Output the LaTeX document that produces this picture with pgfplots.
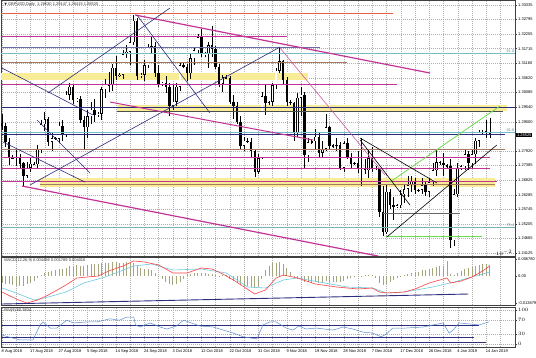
\documentclass[border=0pt]{standalone}
\usepackage{fontspec}
\setmainfont{Liberation Sans}
\newfontfamily\symfont{DejaVu Sans}
\usepackage{pgfplots}
\usepackage{pgfplotstable}
\pgfplotsset{compat=1.18}
\definecolor{mtnavy}{RGB}{45,45,125}
\definecolor{mtmag}{RGB}{195,50,150}
\definecolor{mtred}{RGB}{230,95,70}
\definecolor{mtbrown}{RGB}{165,120,95}
\definecolor{mtyel}{RGB}{248,236,150}
\definecolor{mtteal}{RGB}{120,190,200}
\definecolor{mtgreen}{RGB}{110,220,80}
\definecolor{mthist}{RGB}{165,165,125}
\definecolor{mtcyan}{RGB}{110,200,225}
\definecolor{mtrsi}{RGB}{90,140,210}
\definecolor{mtgrid}{RGB}{175,175,175}

\pgfplotstableread{
i o h l c
0 1.2895 1.2930 1.2868 1.2885
1 1.2885 1.2895 1.2808 1.2825
2 1.2825 1.2838 1.2740 1.2770
3 1.2768 1.2775 1.2760 1.2765
4 1.2765 1.2795 1.2735 1.2770
5 1.2770 1.2780 1.2725 1.2745
6 1.2745 1.2752 1.2662 1.2700
7 1.2700 1.2750 1.2690 1.2730
8 1.2730 1.2765 1.2712 1.2745
9 1.2745 1.2752 1.2738 1.2742
10 1.2742 1.2815 1.2730 1.2798
11 1.2798 1.2905 1.2785 1.2890
12 1.2890 1.2935 1.2865 1.2910
13 1.2910 1.2918 1.2810 1.2825
14 1.2825 1.2860 1.2790 1.2840
15 1.2840 1.2845 1.2832 1.2836
16 1.2836 1.2900 1.2820 1.2885
17 1.2885 1.2905 1.2830 1.2850
18 1.2850 1.3015 1.2845 1.3000
19 1.3000 1.3045 1.2980 1.3030
20 1.3030 1.3040 1.2965 1.2980
21 1.2980 1.2990 1.2972 1.2985
22 1.2985 1.2995 1.2895 1.2905
23 1.2905 1.2920 1.2800 1.2880
24 1.2880 1.2945 1.2840 1.2920
25 1.2920 1.2975 1.2890 1.2945
26 1.2945 1.2985 1.2900 1.2925
27 1.2925 1.2935 1.2918 1.2930
28 1.2930 1.3030 1.2905 1.3020
29 1.3020 1.3060 1.2990 1.3040
30 1.3040 1.3085 1.3010 1.3035
31 1.3035 1.3115 1.3015 1.3100
32 1.3100 1.3145 1.3055 1.3070
33 1.3070 1.3080 1.3065 1.3075
34 1.3075 1.3165 1.3060 1.3150
35 1.3150 1.3185 1.3135 1.3160
36 1.3160 1.3215 1.3110 1.3195
37 1.3195 1.3298 1.3185 1.3275
38 1.3275 1.3285 1.3055 1.3070
39 1.3070 1.3080 1.3062 1.3075
40 1.3075 1.3130 1.3050 1.3110
41 1.3110 1.3190 1.3100 1.3175
42 1.3175 1.3215 1.3150 1.3180
43 1.3180 1.3195 1.3065 1.3080
44 1.3080 1.3110 1.3030 1.3040
45 1.3040 1.3048 1.3032 1.3045
46 1.3045 1.3070 1.3005 1.3030
47 1.3030 1.3045 1.2920 1.2960
48 1.2960 1.3040 1.2945 1.2975
49 1.2975 1.3045 1.2960 1.3030
50 1.3030 1.3120 1.3015 1.3110
51 1.3110 1.3118 1.3100 1.3105
52 1.3105 1.3115 1.3050 1.3080
53 1.3080 1.3150 1.3060 1.3135
54 1.3135 1.3175 1.3110 1.3165
55 1.3165 1.3225 1.3150 1.3215
56 1.3215 1.3245 1.3140 1.3150
57 1.3150 1.3160 1.3140 1.3155
58 1.3155 1.3195 1.3100 1.3185
59 1.3185 1.3257 1.3140 1.3170
60 1.3170 1.3180 1.3095 1.3105
61 1.3105 1.3115 1.3030 1.3040
62 1.3040 1.3075 1.3010 1.3065
63 1.3065 1.3072 1.3058 1.3062
64 1.3062 1.3070 1.2965 1.2975
65 1.2975 1.3000 1.2910 1.2960
66 1.2960 1.2975 1.2890 1.2900
67 1.2900 1.2920 1.2800 1.2810
68 1.2810 1.2845 1.2790 1.2830
69 1.2830 1.2838 1.2822 1.2826
70 1.2826 1.2840 1.2770 1.2790
71 1.2790 1.2800 1.2695 1.2715
72 1.2715 1.2780 1.2705 1.2765
73 1.2765 1.3010 1.2760 1.2995
74 1.2995 1.3040 1.2925 1.2970
75 1.2970 1.2978 1.2962 1.2974
76 1.2974 1.3045 1.2960 1.3035
77 1.3035 1.3100 1.3020 1.3090
78 1.3090 1.3175 1.3080 1.3125
79 1.3125 1.3130 1.3040 1.3055
80 1.3055 1.3065 1.2960 1.2975
81 1.2975 1.2980 1.2962 1.2968
82 1.2968 1.2975 1.2828 1.2860
83 1.2860 1.3005 1.2845 1.2990
84 1.2990 1.3030 1.2920 1.3000
85 1.3000 1.3010 1.2724 1.2775
86 1.2775 1.2840 1.2750 1.2825
87 1.2825 1.2832 1.2818 1.2828
88 1.2828 1.2875 1.2800 1.2845
89 1.2845 1.2860 1.2770 1.2785
90 1.2785 1.2830 1.2770 1.2800
91 1.2800 1.2930 1.2790 1.2880
92 1.2880 1.2885 1.2800 1.2810
93 1.2810 1.2816 1.2802 1.2812
94 1.2812 1.2840 1.2790 1.2815
95 1.2815 1.2825 1.2720 1.2730
96 1.2730 1.2830 1.2715 1.2820
97 1.2820 1.2840 1.2760 1.2770
98 1.2770 1.2785 1.2725 1.2745
99 1.2745 1.2752 1.2738 1.2748
100 1.2748 1.2790 1.2710 1.2725
101 1.2725 1.2840 1.2660 1.2730
102 1.2730 1.2760 1.2705 1.2720
103 1.2720 1.2800 1.2690 1.2765
104 1.2765 1.2805 1.2715 1.2730
105 1.2730 1.2735 1.2720 1.2725
106 1.2725 1.2730 1.2545 1.2565
107 1.2565 1.2660 1.2477 1.2490
108 1.2490 1.2670 1.2485 1.2640
109 1.2640 1.2650 1.2575 1.2590
110 1.2590 1.2620 1.2535 1.2585
111 1.2585 1.2595 1.2580 1.2590
112 1.2590 1.2645 1.2580 1.2630
113 1.2630 1.2665 1.2600 1.2650
114 1.2650 1.2700 1.2620 1.2665
115 1.2665 1.2700 1.2640 1.2680
116 1.2680 1.2690 1.2630 1.2645
117 1.2645 1.2650 1.2640 1.2648
118 1.2648 1.2690 1.2630 1.2665
119 1.2665 1.2680 1.2625 1.2640
120 1.2640 1.2690 1.2620 1.2675
121 1.2675 1.2745 1.2660 1.2720
122 1.2720 1.2795 1.2700 1.2750
123 1.2750 1.2755 1.2740 1.2748
124 1.2748 1.2785 1.2700 1.2740
125 1.2740 1.2745 1.2728 1.2735
126 1.2735 1.2760 1.2430 1.2460
127 1.2460 1.2650 1.2438 1.2630
128 1.2630 1.2745 1.2620 1.2730
129 1.2730 1.2740 1.2722 1.2735
130 1.2735 1.2800 1.2720 1.2780
131 1.2780 1.2790 1.2720 1.2745
132 1.2745 1.2800 1.2730 1.2780
133 1.2780 1.2840 1.2745 1.2830
134 1.2830 1.2870 1.2805 1.2860
135 1.2860 1.2868 1.2852 1.2862
136 1.2862 1.2905 1.2840 1.2866
137 1.2863 1.29147 1.28415 1.28525
}\candles

\pgfplotstableread{
i v
0 -0.0025
1 -0.0028
2 -0.0030
3 -0.0032
4 -0.0034
5 -0.0035
6 -0.0034
7 -0.0030
8 -0.0025
9 -0.0018
10 -0.0008
11 0.0005
12 0.0012
13 0.0015
14 0.0018
15 0.0020
16 0.0024
17 0.0026
18 0.0030
19 0.0034
20 0.0036
21 0.0038
22 0.0036
23 0.0036
24 0.0040
25 0.0042
26 0.0043
27 0.0044
28 0.0046
29 0.0047
30 0.0048
31 0.0049
32 0.0049
33 0.0048
34 0.0048
35 0.0049
36 0.0048
37 0.0045
38 0.0035
39 0.0030
40 0.0026
41 0.0024
42 0.0020
43 0.0010
44 -0.0005
45 -0.0012
46 -0.0020
47 -0.0030
48 -0.0032
49 -0.0028
50 -0.0020
51 -0.0010
52 0.0004
53 0.0006
54 0.0010
55 0.0012
56 0.0010
57 0.0010
58 0.0008
59 0.0006
60 0.0004
61 -0.0003
62 0.0002
63 0.0003
64 -0.0010
65 -0.0018
66 -0.0025
67 -0.0032
68 -0.0035
69 -0.0037
70 -0.0040
71 -0.0042
72 -0.0038
73 -0.0010
74 0.0020
75 0.0035
76 0.0045
77 0.0048
78 0.0050
79 0.0042
80 0.0030
81 0.0015
82 -0.0005
83 -0.0010
84 -0.0012
85 -0.0020
86 -0.0022
87 -0.0024
88 -0.0022
89 -0.0024
90 -0.0025
91 -0.0018
92 -0.0020
93 -0.0022
94 -0.0021
95 -0.0022
96 -0.0018
97 -0.0012
98 -0.0008
99 -0.0004
100 -0.0003
101 -0.0001
102 0.0002
103 0.0003
104 0.0002
105 -0.0006
106 -0.0025
107 -0.0032
108 -0.0030
109 -0.0020
110 -0.0014
111 -0.0008
112 -0.0003
113 0.0004
114 0.0008
115 0.0012
116 0.0014
117 0.0016
118 0.0020
119 0.0022
120 0.0025
121 0.0030
122 0.0033
123 0.0035
124 0.0036
125 0.0052
126 0.0008
127 0.0005
128 0.0012
129 0.0018
130 0.0024
131 0.0028
132 0.0032
133 0.0036
134 0.0040
135 0.0042
136 0.0044
137 0.0040
}\hist

\pgfplotsset{
  mtbase/.style={
    scale only axis, width=514pt,
    xmin=-0.28, xmax=144.1,
    axis line style={black!75, line width=0.5pt},
    xtick={0,8,...,136}, minor xtick={4,12,...,140},
    grid=both,
    major grid style={mtgrid, line width=0.3pt, dash pattern=on 0.8pt off 1.2pt},
    minor grid style={mtgrid, line width=0.3pt, dash pattern=on 0.8pt off 1.2pt},
    tick align=outside, ytick pos=right, xtick pos=bottom,
    major tick length=1.5pt, minor tick length=0pt,
    tick style={black!75, line width=0.4pt},
    yticklabel pos=right,
    yticklabel style={font=\fontsize{4}{4.8}\selectfont, inner sep=1pt, xshift=0.5pt},
    xticklabel style={font=\fontsize{4}{4.8}\selectfont, anchor=north west, inner sep=1pt, xshift=-1.5pt},
  },
}

\begin{document}
\begin{tikzpicture}[font=\fontsize{4}{4.8}\selectfont]
\path[use as bounding box] (0pt,0pt) rectangle (536pt,-358pt);

% ---------------- main price panel ----------------
\begin{axis}[mtbase,
  at={(1pt,0pt)}, anchor=north west, height=256pt,
  ymin=1.24015, ymax=1.33521,
  xticklabels={}, xtick style={draw=none},
  ytick={1.33335,1.32795,1.32255,1.31715,1.31160,1.30620,1.30085,1.29540,1.29000,1.27920,1.27385,1.26825,1.26285,1.25745,1.25205,1.24665,1.24125},
  yticklabel style={/pgf/number format/.cd, fixed, fixed zerofill, precision=5, assume math mode=true},
  clip=true,
]
% yellow zones
\addplot[fill=mtyel, draw=none] coordinates {(-0.28,1.30810) (86,1.30810) (86,1.30550) (-0.28,1.30550)} -- cycle;
\addplot[fill=mtyel, draw=none] coordinates {(32.3,1.29622) (141.9,1.29622) (141.9,1.29399) (32.3,1.29399)} -- cycle;
\addplot[fill=mtyel, draw=none] coordinates {(10.7,1.26911) (138.5,1.26911) (138.5,1.26577) (10.7,1.26577)} -- cycle;

% candles: wicks
\addplot[draw=none, mark=none, forget plot,
  error bars/.cd, y dir=both, y explicit, error mark=none,
  error bar style={draw=black, line width=0.45pt}]
  table[x=i, y expr={(\thisrow{h}+\thisrow{l})/2}, y error expr={(\thisrow{h}-\thisrow{l})/2}] {\candles};
% candles: bodies
\addplot[draw=none, mark=none, forget plot,
  error bars/.cd, y dir=both, y explicit, error mark=none,
  error bar style={draw=black, line width=2.4pt}]
  table[x=i, y expr={(\thisrow{o}+\thisrow{c})/2}, y error expr={max(abs(\thisrow{o}-\thisrow{c})/2,0.00012)}] {\candles};
% bull bodies: white inside
\addplot[draw=none, mark=none, forget plot, restrict y to domain=1.2:1.4,
  error bars/.cd, y dir=both, y explicit, error mark=none,
  error bar style={draw=white, line width=1.5pt}]
  table[x=i, y expr={ifthenelse(\thisrow{c}>\thisrow{o}+0.0004,(\thisrow{o}+\thisrow{c})/2,5)}, y error expr={max((\thisrow{c}-\thisrow{o})/2-0.00022,0.00001)}] {\candles};

% horizontal levels
\addplot[mtred, line width=0.7pt] coordinates {(-0.28,1.33038) (109.8,1.33038)};
\addplot[mtmag, line width=0.7pt] coordinates {(-0.28,1.32184) (80,1.32184)};
\addplot[mtnavy!70, line width=0.5pt] coordinates {(-0.28,1.31775) (89.3,1.31775)};
\addplot[mtteal, line width=0.6pt] coordinates {(-0.28,1.31553) (144.1,1.31553)};
\addplot[mtbrown, line width=0.7pt] coordinates {(-0.28,1.31218) (97,1.31218)};
\addplot[mtmag, line width=0.7pt] coordinates {(-0.28,1.30402) (111,1.30402)};
\addplot[mtnavy, line width=0.7pt] coordinates {(-0.28,1.29547) (144.1,1.29547)};
\addplot[black!70, line width=0.6pt] coordinates {(32.3,1.29399) (140.7,1.29399)};
\addplot[mtteal, line width=0.6pt] coordinates {(-0.28,1.28620) (144.1,1.28620)};
\addplot[mtnavy, line width=0.6pt] coordinates {(-0.28,1.28545) (141.3,1.28545)};
\addplot[mtbrown, line width=0.7pt] coordinates {(-0.28,1.27988) (141.3,1.27988)};
\addplot[mtmag, line width=0.7pt] coordinates {(-0.28,1.27691) (137,1.27691)};
\addplot[mtmag, line width=0.7pt] coordinates {(-0.28,1.27282) (137,1.27282)};
\addplot[mtmag, line width=0.7pt] coordinates {(-0.28,1.26800) (139,1.26800)};
\addplot[mtbrown, line width=0.7pt] coordinates {(10.7,1.26688) (138.5,1.26688)};
\addplot[mtteal!80!gray, line width=0.6pt] coordinates {(-0.28,1.25091) (144.1,1.25091)};
\addplot[black!60, line width=0.6pt] coordinates {(107,1.25612) (128.7,1.25612)};
\addplot[mtgreen, line width=0.7pt] coordinates {(108,1.24757) (134.8,1.24757)};

% trend lines
\addplot[mtmag, line width=1.2pt] coordinates {(5.62,1.26614) (105.6,1.24015)};
\addplot[mtmag, line width=1.2pt] coordinates {(37.4,1.32964) (120.2,1.30810)};
\addplot[mtmag, line width=1.0pt] coordinates {(30.3,1.29733) (87.4,1.28322)};
\addplot[mtmag!80, line width=0.6pt] coordinates {(78.1,1.31738) (107.6,1.27022)};
\addplot[mtnavy, line width=0.6pt] coordinates {(7.87,1.26651) (78.1,1.31775)};
\addplot[mtnavy, line width=0.6pt] coordinates {(37.9,1.32964) (58.4,1.29325)};
\addplot[mtnavy, line width=0.6pt] coordinates {(-0.28,1.31014) (25.56,1.29250)};
\addplot[mtnavy, line width=0.6pt] coordinates {(0.28,1.28248) (23.3,1.26762)};
\addplot[mtnavy, line width=0.6pt] coordinates {(9.83,1.29065) (24.7,1.27097)};
\addplot[mtnavy, line width=0.6pt] coordinates {(12.9,1.30067) (47.2,1.33224)};
\addplot[mtgreen, line width=0.8pt] coordinates {(109,1.26762) (139.9,1.29585)};
\addplot[black, line width=0.6pt] coordinates {(108.1,1.24720) (139,1.28136)};
\addplot[black, line width=0.6pt] coordinates {(100.6,1.28396) (122.2,1.26725)};
\addplot[black, line width=0.6pt] coordinates {(100.6,1.28322) (114.6,1.25908)};

% labels
\node[anchor=north west, inner sep=0pt, text=black!80] at (rel axis cs:0.006,0.992) {{\symfont\fontsize{3.5}{4}\selectfont ▼}\ GBPUSD,Daily\ \ 1.28630 1.29147 1.28415 1.28525};
\node[anchor=south east, inner sep=0.5pt, text=mtteal!80!black] at (axis cs:144.1,1.31553) {61.8};
\node[anchor=south east, inner sep=0.5pt, text=mtteal!80!black] at (axis cs:144.1,1.28620) {61.8};
\node[anchor=south east, inner sep=0.5pt, text=mtteal!80!black] at (axis cs:144.1,1.25091) {76.4};
\end{axis}
% current price tag
\node[anchor=west, fill=black, text=white, inner sep=0.8pt, font=\fontsize{4}{4.8}\selectfont] at (516pt,-135pt) {1.28525};

% ---------------- MACD panel ----------------
\begin{axis}[mtbase,
  at={(1pt,-257pt)}, anchor=north west, height=48pt,
  ymin=-0.01035, ymax=0.00678,
  xticklabels={}, xtick style={draw=none},
  ytick={0.00607,0,-0.00964}, yticklabels={0.006780,0.00,-0.013879},
  grid=minor, major grid style={draw=none},
  extra x ticks={0,8,...,136}, extra x tick labels={}, extra x tick style={grid=major, major grid style={mtgrid, line width=0.3pt, dash pattern=on 0.8pt off 1.2pt}, tick style={draw=none}},
  clip=true,
]
\addplot[ycomb, mthist, line width=0.8pt, mark=none] table[x=i, y=v] {\hist};
\addplot[mtcyan, line width=0.6pt] coordinates {
(0,-0.00428) (4,-0.00607) (9,-0.00857) (13,-0.0075) (18,-0.00571) (23,-0.0025) (29,-0.00036)
(37,0.00357) (42,0.00428) (48,0.00214) (56,0.0025) (63,0.00107) (69,-0.00393) (74,-0.00428)
(79,-0.00143) (83,-0.00071) (89,-0.00214) (97,-0.00393) (104,-0.00428) (108,-0.00607) (113,-0.00571)
(121,-0.00393) (127,-0.00214) (132,-0.00036) (137,0.00143)};
\addplot[red!75!white, line width=0.6pt] coordinates {
(0,-0.00571) (4,-0.00821) (7,-0.00964) (10,-0.00857) (13,-0.00678) (18,-0.00321) (21,-0.00071)
(27,0) (30,0.00178) (34,0.00357) (37,0.00536) (40,0.0050) (44,0.00393) (48,0.00107) (52,0.00107)
(56,0.00286) (59,0.0025) (62,0.00071) (65,-0.00143) (68,-0.00393) (71,-0.00643) (74,-0.005)
(77,-0.00071) (79,0.00036) (83,-0.00071) (88,-0.00286) (94,-0.00393) (100,-0.00464) (104,-0.00428)
(106,-0.00571) (108,-0.00607) (113,-0.00571) (116,-0.00464) (120,-0.0025) (124,-0.00107)
(125,-0.00071) (126,-0.0025) (129,-0.00178) (132,-0.00036) (135,0.00178) (137,0.00357)};
\addplot[mtnavy, line width=0.9pt] coordinates {(-0.28,-0.0100) (131,-0.00643)};
\node[anchor=north west, inner sep=0pt, text=black!80] at (rel axis cs:0.006,0.97) {MACD(12,26,9) 0.004466 0.001789 0.004016};
\end{axis}

% ---------------- RSI panel ----------------
\begin{axis}[mtbase,
  at={(1pt,-307pt)}, anchor=north west, height=40pt,
  ymin=-8.8, ymax=108.8,
  ytick={0,30,70,100},
  xticklabels={8 Aug 2018,17 Aug 2018,27 Aug 2018,5 Sep 2018,14 Sep 2018,24 Sep 2018,3 Oct 2018,12 Oct 2018,22 Oct 2018,31 Oct 2018,9 Nov 2018,19 Nov 2018,28 Nov 2018,7 Dec 2018,17 Dec 2018,26 Dec 2018,4 Jan 2019,14 Jan 2019},
  clip=true,
]
\addplot[mtnavy, line width=0.8pt] coordinates {(-0.28,56) (134,56)};
\addplot[mtnavy, line width=0.8pt] coordinates {(-0.28,20.6) (132.6,20.6)};
\addplot[mtnavy, line width=0.8pt] coordinates {(-0.28,6) (136,6)};
\addplot[mtrsi, line width=0.5pt] coordinates {
(0,26) (5,12) (8.7,12) (10.7,56) (11.5,65) (13.5,47) (15.4,47) (18.2,70) (20,62) (23.9,65)
(26.7,65) (30.3,74) (33,70) (35,79) (37,79) (37.5,56) (38.8,50) (41.6,62) (44.4,50) (46.3,44)
(49,53) (51,70) (55.6,53) (59.3,50) (65,32) (67.8,21) (71.6,15) (73.3,56) (75.3,65) (77,65)
(79.8,47) (81.7,41) (83.4,53) (85.4,44) (88.2,47) (93,41) (95.8,50) (98.6,44) (101.4,35)
(104.2,32) (106.5,21) (107.9,29) (109.8,47) (113.5,47) (118.3,50) (123.9,62) (125.6,32)
(126.7,41) (128.4,62) (134,56) (136.8,65)};
\node[anchor=north west, inner sep=0pt, text=black!80] at (rel axis cs:0.006,0.96) {RSI(9) 60.5834};
\end{axis}
\end{tikzpicture}
\end{document}
